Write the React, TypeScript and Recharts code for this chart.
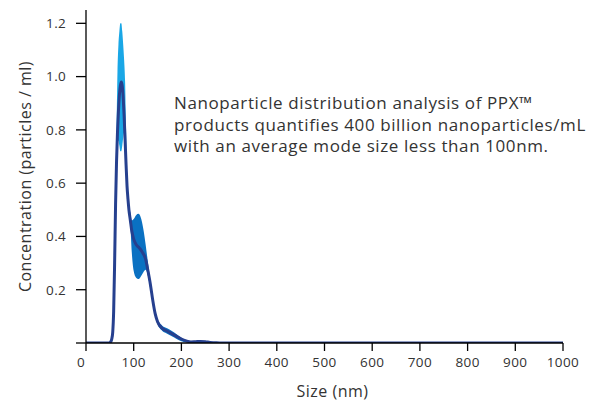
import { ComposedChart, Area, Line, XAxis, YAxis, Label } from 'recharts';

// particle size (nm)
const sizes = [
  0, 20, 40, 48, 52, 54, 56, 58, 60, 62,
  64, 66, 68, 70, 72, 74, 76, 78, 80, 82,
  84, 86, 88, 90, 93, 96, 100, 105, 110, 115,
  120, 125, 130, 135, 140, 145, 150, 160, 170, 180,
  190, 200, 210, 220, 230, 240, 250, 260, 270, 280,
  300, 400, 500, 600, 700, 800, 900, 1000,
];

// mean concentration (dark line)
const meanConc = [
  0, 0, 0, 0, 0.005, 0.015, 0.04, 0.12, 0.3, 0.52,
  0.68, 0.79, 0.87, 0.93, 0.965, 0.98, 0.965, 0.92, 0.85, 0.76,
  0.67, 0.59, 0.54, 0.5, 0.46, 0.42, 0.39, 0.37, 0.36, 0.35,
  0.335, 0.315, 0.27, 0.22, 0.16, 0.11, 0.08, 0.055, 0.045, 0.035,
  0.025, 0.015, 0.008, 0.004, 0.005, 0.006, 0.005, 0.002, 0.001, 0,
  0, 0, 0, 0, 0, 0, 0, 0,
];

// spread around the main peak (light blue)
const peakLow = [
  0, 0, 0, 0, 0.005, 0.015, 0.04, 0.12, 0.3, 0.52,
  0.66, 0.74, 0.76, 0.74, 0.72, 0.72, 0.74, 0.77, 0.79, 0.72,
  0.65, 0.59, 0.54, 0.5, 0.46, 0.42, 0.39, 0.37, 0.36, 0.35,
  0.335, 0.315, 0.27, 0.22, 0.16, 0.11, 0.08, 0.055, 0.045, 0.035,
  0.025, 0.015, 0.008, 0.004, 0.005, 0.006, 0.005, 0.002, 0.001, 0,
  0, 0, 0, 0, 0, 0, 0, 0,
];
const peakHigh = [
  0, 0, 0, 0, 0.005, 0.015, 0.04, 0.14, 0.33, 0.57,
  0.8, 1.02, 1.12, 1.17, 1.2, 1.2, 1.17, 1.12, 1.06, 0.98,
  0.8, 0.64, 0.56, 0.5, 0.46, 0.42, 0.39, 0.37, 0.36, 0.35,
  0.335, 0.315, 0.27, 0.22, 0.16, 0.11, 0.08, 0.055, 0.045, 0.035,
  0.025, 0.015, 0.008, 0.004, 0.005, 0.006, 0.005, 0.002, 0.001, 0,
  0, 0, 0, 0, 0, 0, 0, 0,
];

// spread around the shoulder and tail (mid blue)
const shoulderLow = [
  0, 0, 0, 0, 0.005, 0.015, 0.04, 0.12, 0.3, 0.52,
  0.68, 0.79, 0.87, 0.93, 0.965, 0.98, 0.965, 0.92, 0.85, 0.76,
  0.67, 0.59, 0.54, 0.49, 0.44, 0.34, 0.27, 0.245, 0.24, 0.25,
  0.265, 0.275, 0.25, 0.2, 0.145, 0.1, 0.07, 0.045, 0.035, 0.025,
  0.015, 0.007, 0.003, 0.004, 0.005, 0.006, 0.005, 0.002, 0.001, 0,
  0, 0, 0, 0, 0, 0, 0, 0,
];
const shoulderHigh = [
  0, 0, 0, 0, 0.005, 0.015, 0.04, 0.12, 0.3, 0.52,
  0.68, 0.79, 0.87, 0.93, 0.965, 0.98, 0.965, 0.92, 0.85, 0.76,
  0.67, 0.6, 0.55, 0.51, 0.49, 0.46, 0.465, 0.48, 0.485, 0.47,
  0.43, 0.37, 0.3, 0.23, 0.17, 0.12, 0.09, 0.065, 0.055, 0.045,
  0.033, 0.02, 0.01, 0.004, 0.005, 0.006, 0.005, 0.002, 0.001, 0,
  0, 0, 0, 0, 0, 0, 0, 0,
];

const xTicks = [0, 100, 200, 300, 400, 500, 600, 700, 800, 900, 1000];
const yTicks = [0, 0.2, 0.4, 0.6, 0.8, 1.0, 1.2];

const noteLines = [
  'Nanoparticle distribution analysis of PPX™',
  'products quantifies 400 billion nanoparticles/mL',
  'with an average mode size less than 100nm.',
];

const data = sizes.map((size, i) => ({
  size,
  mean: meanConc[i],
  peak: [peakLow[i], peakHigh[i]],
  shoulder: [shoulderLow[i], shoulderHigh[i]],
}));

const FONT = '"Open Sans", sans-serif';
const TEXT = '#333333';

const XTick = (props: any) => {
  const { x, y, payload } = props;
  const dx = payload.value === 0 ? -5 : 0;
  return (
    <text
      x={x + dx}
      y={y}
      dy={13}
      textAnchor="middle"
      fill={TEXT}
      fontSize={13.5}
      letterSpacing={0.4}
      fontFamily={FONT}
    >
      {payload.value}
    </text>
  );
};

export default function App() {
  return (
    <div style={{ position: 'absolute', left: 0, top: 0, width: 604, height: 405, background: '#fff' }}>
      <ComposedChart
        width={604}
        height={405}
        data={data}
        margin={{ top: 10, right: 41, bottom: 0, left: 0 }}
      >
        <XAxis
          type="number"
          dataKey="size"
          domain={[0, 1000]}
          ticks={xTicks}
          tick={<XTick />}
          tickSize={8}
          tickMargin={3}
          height={62}
          axisLine={{ stroke: '#000', strokeWidth: 1.3 }}
          tickLine={{ stroke: '#000', strokeWidth: 1.3 }}
        >
          <Label
            value="Size (nm)"
            position="insideBottom"
            offset={8}
            dx={8}
            fill={TEXT}
            fontSize={16}
            letterSpacing={0.5}
            fontFamily={FONT}
          />
        </XAxis>
        <YAxis
          type="number"
          domain={[0, 1.25]}
          ticks={yTicks}
          allowDataOverflow
          tickFormatter={(v: number) => (v === 0 ? '' : v.toFixed(1))}
          tickSize={10}
          tickMargin={10}
          width={86}
          tick={{ fill: TEXT, fontSize: 13.5, fontFamily: FONT, letterSpacing: 0.3 }}
          axisLine={{ stroke: '#000', strokeWidth: 1.3 }}
          tickLine={{ stroke: '#000', strokeWidth: 1.3 }}
        >
          <Label
            value="Concentration (particles / ml)"
            angle={-90}
            position="insideLeft"
            offset={25}
            style={{ textAnchor: 'middle' }}
            fill={TEXT}
            fontSize={16}
            letterSpacing={0.5}
            fontFamily={FONT}
          />
        </YAxis>
        <Area
          dataKey="shoulder"
          type="monotone"
          fill="#0a71c2"
          fillOpacity={1}
          stroke="none"
          isAnimationActive={false}
        />
        <Area
          dataKey="peak"
          type="monotone"
          fill="#1aa7e6"
          fillOpacity={1}
          stroke="none"
          isAnimationActive={false}
        />
        <Line
          dataKey="mean"
          type="monotone"
          stroke="#26408f"
          strokeWidth={3}
          dot={false}
          isAnimationActive={false}
        />
      </ComposedChart>
      <svg
        width={604}
        height={405}
        style={{ position: 'absolute', left: 0, top: 0, pointerEvents: 'none' }}
      >
        {noteLines.map((line, i) => (
          <text
            key={i}
            x={174}
            y={109 + i * 21.5}
            fill={TEXT}
            fontSize={17}
            letterSpacing={0.6}
            fontFamily={FONT}
          >
            {line}
          </text>
        ))}
      </svg>
    </div>
  );
}
